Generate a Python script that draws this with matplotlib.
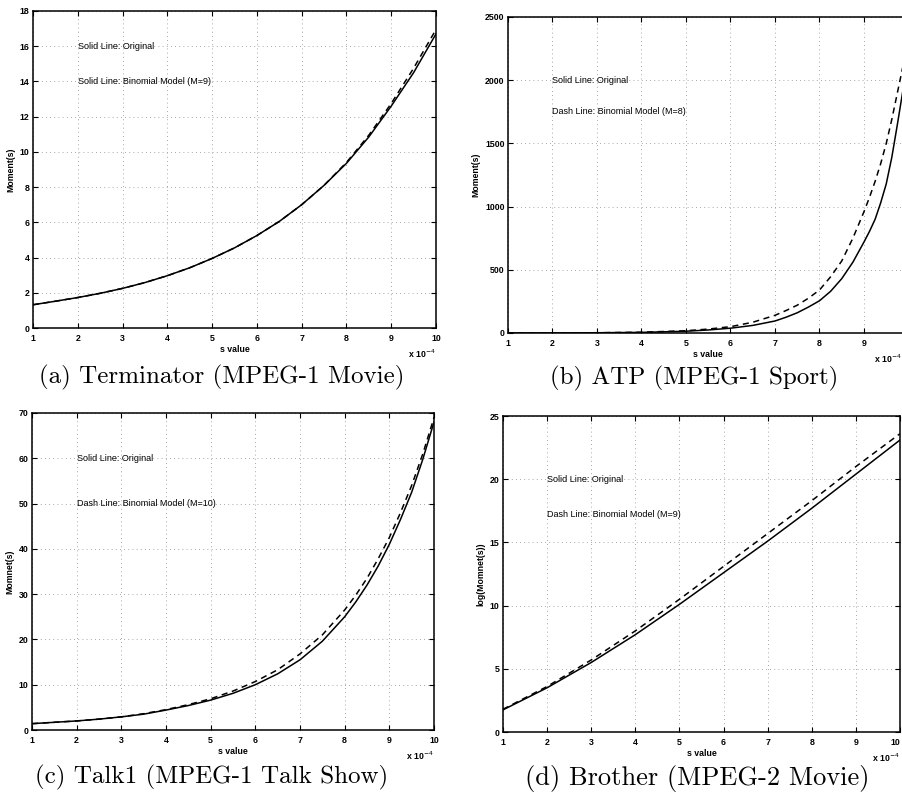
import matplotlib
matplotlib.use("Agg")
import matplotlib.pyplot as plt
import numpy as np

# s values (x 10^-4)
s_a = [1, 1.5, 2, 2.5, 3, 3.5, 4, 4.5, 5, 5.5, 6, 6.5, 7, 7.5, 8, 8.5, 9, 9.5, 10]
orig_a = [1.32, 1.52, 1.73, 1.97, 2.25, 2.58, 2.97, 3.42, 3.95, 4.55, 5.25, 6.05, 7.0, 8.1, 9.35, 10.85, 12.6, 14.5, 16.7]
model_a = [1.32, 1.52, 1.73, 1.97, 2.25, 2.58, 2.97, 3.42, 3.95, 4.55, 5.25, 6.05, 7.0, 8.1, 9.4, 10.95, 12.75, 14.75, 16.95]

s_b = [1, 2, 3, 4, 5, 5.5, 6, 6.5, 7, 7.25, 7.5, 7.75, 8, 8.25, 8.5, 8.75, 9, 9.125, 9.25, 9.375, 9.5, 9.625, 9.75, 9.875, 10]
orig_b = [0.3, 0.7, 2, 5, 14, 24, 38, 60, 95, 125, 160, 205, 255, 330, 430, 560, 720, 805, 900, 1030, 1180, 1390, 1650, 1920, 2200]
model_b = [0.3, 0.8, 2, 6, 18, 31, 50, 85, 140, 178, 220, 275, 340, 445, 570, 750, 960, 1075, 1200, 1340, 1500, 1690, 1900, 2110, 2350]

s_c = [1, 1.5, 2, 2.5, 3, 3.5, 4, 4.5, 5, 5.5, 6, 6.5, 7, 7.5, 8, 8.25, 8.5, 8.75, 9, 9.25, 9.5, 9.75, 10]
orig_c = [1.4, 1.7, 2.0, 2.4, 2.9, 3.5, 4.4, 5.4, 6.6, 8.1, 10.0, 12.4, 15.5, 19.6, 25.0, 28.3, 32.0, 36.2, 41.0, 46.5, 52.5, 59.8, 68.0]
model_c = [1.4, 1.7, 2.0, 2.4, 2.9, 3.6, 4.5, 5.6, 6.9, 8.6, 10.7, 13.3, 16.8, 21.0, 26.5, 29.8, 33.5, 37.8, 42.5, 48.0, 54.0, 61.0, 69.0]

s_d = [1, 2, 3, 4, 5, 6, 7, 8, 9, 10]
orig_d = [1.75, 3.5, 5.5, 7.7, 10.1, 12.6, 15.1, 17.7, 20.4, 23.1]
model_d = [1.8, 3.6, 5.7, 8.0, 10.5, 13.1, 15.7, 18.3, 21.0, 23.6]

ylabels = ["Moment(s)", "Moment(s)", "Momnet(s)", "log(Momnet(s))"]
ymaxes = [18, 2500, 70, 25]
ysteps = [2, 500, 10, 5]
notes = [("Solid Line: Original", "Solid Line: Binomial Model (M=9)", 16, 14),
         ("Solid Line: Original", "Dash Line: Binomial Model (M=8)", 2000, 1750),
         ("Solid Line: Original", "Dash Line: Binomial Model (M=10)", 60, 50),
         ("Solid Line: Original", "Dash Line: Binomial Model (M=9)", 20, 17.2)]
captions = ["(a) Terminator (MPEG-1 Movie)", "(b) ATP (MPEG-1 Sport)",
            "(c) Talk1 (MPEG-1 Talk Show)", "(d) Brother (MPEG-2 Movie)"]

W, H = 903, 796
# axes boxes in pixels: left, top, right, bottom
boxes = [(33, 11, 436, 328), (508, 17, 908.5, 333), (32, 413, 434, 730), (503, 416, 900, 732)]
# caption centres in pixels and sizes
cap_xy = [(222, 377), (694, 378), (212, 777), (697, 778)]
cap_size = [18, 18, 18, 19]
series = [(s_a, orig_a, model_a), (s_b, orig_b, model_b), (s_c, orig_c, model_c), (s_d, orig_d, model_d)]

fig = plt.figure(figsize=(W / 100, H / 100), dpi=100)
tickfont = dict(family="Liberation Sans", weight="bold", size=6.3)

for i in range(4):
    l, t, r, b = boxes[i]
    ax = fig.add_axes([l / W, 1 - b / H, (r - l) / W, (b - t) / H])
    s, orig, model = series[i]
    ax.plot(s, orig, color="black", lw=1.1)
    ax.plot(s, model, color="black", lw=1.1, linestyle=(0, (4, 3)))
    ax.set_xlim(1, 10)
    ax.set_ylim(0, ymaxes[i])
    ax.set_xticks(range(1, 11))
    ax.set_yticks(np.arange(0, ymaxes[i] + 1, ysteps[i]))
    ax.tick_params(direction="in", top=True, right=True, length=3.5, width=0.8, pad=4)
    ax.tick_params(axis="y", pad=2.5)
    if i == 1:
        # the reference is cropped here: the "10" label is not shown
        ax.set_xticklabels([str(v) for v in range(1, 10)] + [""])
    for lab in ax.get_xticklabels() + ax.get_yticklabels():
        lab.set_fontproperties(matplotlib.font_manager.FontProperties(**tickfont))
    if i == 3:
        ax.get_xticklabels()[-1].set_horizontalalignment("right")
    ax.grid(True, linestyle=(0, (1, 4)), color="#8a8a8a", lw=0.6)
    for sp in ax.spines.values():
        sp.set_linewidth(1.1)
    ax.set_xlabel("s value", labelpad=2, **tickfont)
    ax.set_ylabel(ylabels[i], labelpad=3, **tickfont)
    n1, n2, y1, y2 = notes[i]
    ax.text(2.0, y1, n1, va="center", ha="left", family="Liberation Sans", size=6.5)
    ax.text(2.0, y2, n2, va="center", ha="left", family="Liberation Sans", size=6.5)
    xr = r if i != 1 else 902
    fig.text(xr / W, 1 - (b + 20) / H, r"x 10$^{-4}$", ha="right", va="top",
             family="Liberation Sans", weight="bold", size=6.3)
    cx, cy = cap_xy[i]
    fig.text(cx / W, 1 - cy / H, captions[i],
             ha="center", va="center", family="cmr10", size=cap_size[i])

plt.savefig("out.png", dpi=100)
